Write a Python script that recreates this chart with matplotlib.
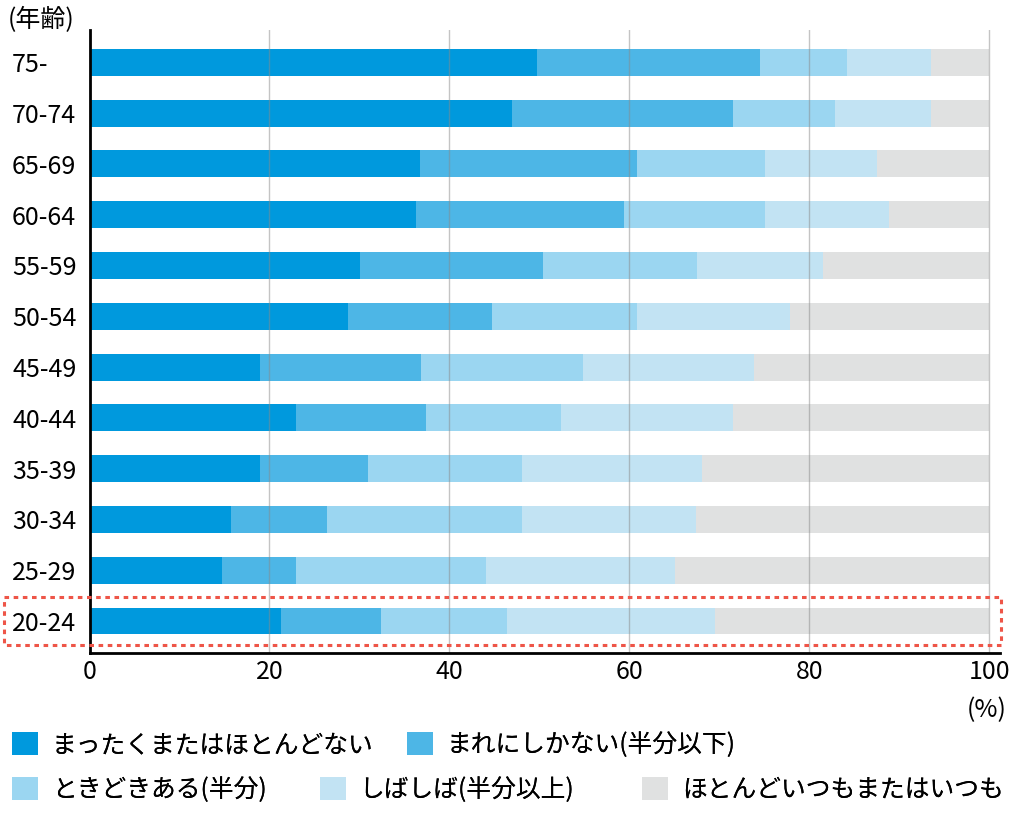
import matplotlib
matplotlib.use("Agg")
import matplotlib.pyplot as plt
import numpy as np
from matplotlib.patches import Rectangle
from matplotlib.transforms import blended_transform_factory

plt.rcParams["font.family"] = ["Noto Sans CJK JP", "DejaVu Sans"]

ages = ["75-", "70-74", "65-69", "60-64", "55-59", "50-54",
        "45-49", "40-44", "35-39", "30-34", "25-29", "20-24"]

series_names = [
    "まったくまたはほとんどない",
    "まれにしかない(半分以下)",
    "ときどきある(半分)",
    "しばしば(半分以上)",
    "ほとんどいつもまたはいつも",
]

hardly_ever = [49.7, 47.0, 36.7, 36.3, 30.1, 28.7, 19.0, 23.0, 19.0, 15.7, 14.7, 21.3]
rarely = [24.8, 24.5, 24.1, 23.1, 20.3, 16.0, 17.8, 14.4, 12.0, 10.7, 8.3, 11.1]
sometimes = [9.7, 11.3, 14.3, 15.7, 17.1, 16.1, 18.0, 15.0, 17.1, 21.7, 21.1, 14.0]
often = [9.3, 10.7, 12.4, 13.7, 14.0, 17.0, 19.0, 19.1, 20.0, 19.3, 21.0, 23.1]
always = [6.5, 6.5, 12.5, 11.2, 18.5, 22.2, 26.2, 28.5, 31.9, 32.6, 34.9, 30.5]

colors = ["#0099DD", "#4DB6E6", "#9BD6F1", "#C2E3F3", "#E0E1E1"]

# legend entry anchors (figure fraction): two rows, uneven columns
legend_pos = [(0.0117, 0.0903), (0.3955, 0.0903),
              (0.0117, 0.0354), (0.311, 0.0354), (0.624, 0.0354)]


def main() -> None:
    data = np.array([hardly_ever, rarely, sometimes, often, always], dtype=float)
    y = np.arange(len(ages))

    fig = plt.figure(figsize=(10.29, 8.19), dpi=100)
    ax = fig.add_axes([0.087, 0.2027, 0.885, 0.7603])

    left = np.zeros(len(ages))
    handles = []
    for vals, name, col in zip(data, series_names, colors):
        bars = ax.barh(y, vals, left=left, height=0.53, color=col,
                       label=name, zorder=2, linewidth=0)
        handles.append(bars)
        left += vals

    ax.set_xlim(0, 101.2)
    ax.set_ylim(len(ages) - 0.37, -0.63)
    ax.set_xticks([0, 20, 40, 60, 80, 100])
    ax.set_yticks(y, ages)
    for lbl in ax.get_yticklabels():
        lbl.set_horizontalalignment("left")
    ax.tick_params(axis="y", length=0, pad=55.8, labelsize=18)
    ax.tick_params(axis="x", length=0, pad=4, labelsize=18)

    ax.grid(axis="x", color="#8A8A8A", alpha=0.5, linewidth=1.0, zorder=3)
    ax.set_axisbelow(False)
    for s in ("top", "right"):
        ax.spines[s].set_visible(False)
    ax.spines["left"].set_linewidth(2.0)
    ax.spines["bottom"].set_linewidth(2.0)
    ax.spines["left"].set_zorder(4)
    ax.spines["bottom"].set_zorder(4)

    # dashed highlight around the youngest group
    trans = blended_transform_factory(fig.transFigure, ax.transData)
    box = Rectangle((0.004, len(ages) - 1 - 0.47), 0.969, 0.94,
                    transform=trans, fill=False, edgecolor="#EE5548",
                    linewidth=2.2, linestyle=(0, (1.5, 1.5)), clip_on=False,
                    zorder=5)
    ax.add_patch(box)

    fig.text(0.008, 0.975, "(年齢)", fontsize=18, ha="left", va="center")
    fig.text(0.978, 0.133, "(%)", fontsize=18, ha="right", va="center")

    for h, name, pos in zip(handles, series_names, legend_pos):
        leg = fig.legend([h], [name], loc="center left", bbox_to_anchor=pos,
                         frameon=False, borderpad=0, borderaxespad=0,
                         fontsize=17.8, handlelength=1.05, handleheight=1.05,
                         handletextpad=0.55)
        fig.add_artist(leg)

    fig.savefig("out.png", dpi=100)
    plt.close(fig)


if __name__ == "__main__":
    main()
